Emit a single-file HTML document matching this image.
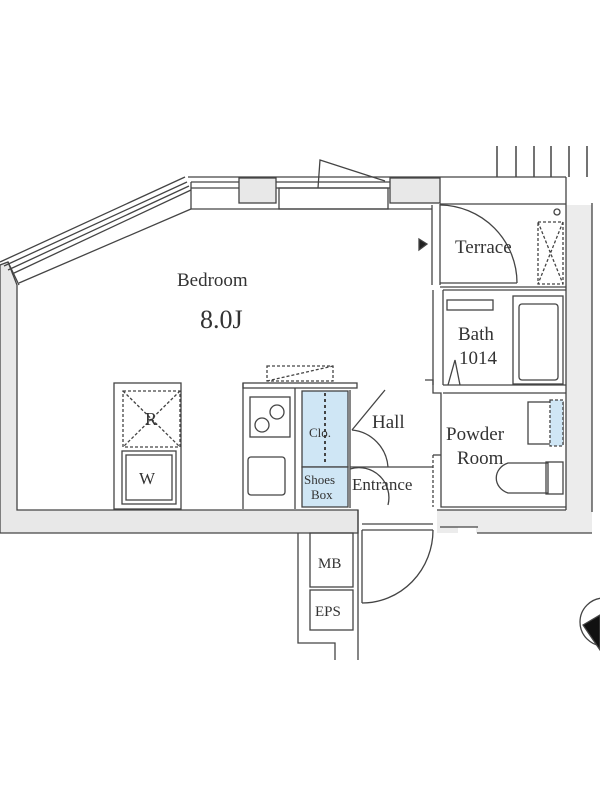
<!DOCTYPE html>
<html><head><meta charset="utf-8"><style>
html,body{margin:0;padding:0;background:#fff;}
svg{display:block;}
text{font-family:"Liberation Serif",serif;fill:#333;}
</style></head><body>
<svg width="600" height="800" viewBox="0 0 600 800" xmlns="http://www.w3.org/2000/svg">
<g stroke="#444" stroke-width="1.3" fill="none">
<!-- gray walls -->
<path d="M0,265 L8,262 L17,285 L17,510 L358,510 L358,533 L0,533 Z" fill="#e8e8e8"/>
<path d="M437,510 L566,510 L566,205 L592,205 L592,533 L476,533 L476,527 L458,527 L458,533 L437,533 Z" fill="#ececec" stroke="none"/>
<line x1="437" y1="510" x2="566" y2="510"/><line x1="440" y1="527" x2="478" y2="527"/><line x1="477" y1="533" x2="592" y2="533"/>
<line x1="566" y1="177" x2="566" y2="510"/><line x1="592" y1="203" x2="592" y2="512"/>
<rect x="239" y="178" width="37" height="25" fill="#e8e8e8"/>
<rect x="390" y="178" width="50" height="25" fill="#e8e8e8"/>
<!-- top walls -->
<line x1="188" y1="177" x2="566" y2="177"/>
<line x1="191" y1="209" x2="432" y2="209"/>
<line x1="191" y1="182" x2="239" y2="182"/><line x1="191" y1="188" x2="239" y2="188"/><line x1="191" y1="182" x2="191" y2="209"/>
<line x1="276" y1="182" x2="390" y2="182"/><line x1="276" y1="188" x2="390" y2="188"/>
<rect x="279" y="188" width="109" height="21"/>
<polyline points="318,188 320,160 385,181"/>
<!-- diagonal window -->
<line x1="0" y1="262" x2="185" y2="177"/>
<line x1="4" y1="266" x2="187" y2="182"/>
<line x1="8" y1="270" x2="189" y2="186"/>
<line x1="12" y1="274" x2="191" y2="190"/>
<line x1="19" y1="283" x2="191" y2="209"/>
<line x1="8" y1="262" x2="19" y2="285"/>
<!-- railing -->
<g stroke-width="1.5"><line x1="497" y1="146" x2="497" y2="177"/><line x1="516" y1="146" x2="516" y2="177"/><line x1="534" y1="146" x2="534" y2="177"/><line x1="551" y1="146" x2="551" y2="177"/><line x1="569" y1="146" x2="569" y2="177"/><line x1="587" y1="146" x2="587" y2="177"/></g>
<!-- terrace -->
<line x1="440" y1="204" x2="566" y2="204"/>
<line x1="440" y1="287" x2="566" y2="287"/>
<line x1="432" y1="205" x2="432" y2="285"/><line x1="440" y1="204" x2="440" y2="285"/>
<path d="M440,205 A78,78 0 0 1 517,283" />
<line x1="440" y1="283" x2="517" y2="283"/>
<circle cx="557" cy="212" r="3"/>
<rect x="538" y="222" width="25" height="62" stroke-dasharray="3,2"/>
<path d="M538,222 L563,284 M563,222 L538,284" stroke-dasharray="3,2"/>
<path d="M419,239 L427,244 L419,250 Z" fill="#222"/>
<!-- bath -->
<line x1="433" y1="290" x2="433" y2="385"/><line x1="443" y1="290" x2="443" y2="385"/>
<line x1="443" y1="290" x2="566" y2="290"/>
<rect x="447" y="300" width="46" height="10"/>
<rect x="513" y="296" width="50" height="88"/>
<rect x="519" y="304" width="39" height="76" rx="3"/>
<polyline points="448,385 455,360 460,385"/>
<line x1="443" y1="385" x2="566" y2="385"/>
<path d="M425,380 L433,380 L433,393 L441,393 L441,507 L566,507" />
<line x1="443" y1="393" x2="566" y2="393"/>
<!-- powder room fixtures -->
<rect x="528" y="402" width="35" height="42"/>
<rect x="550" y="400" width="13" height="46" fill="#cfe6f5" stroke-dasharray="3,2"/>
<path d="M548,463 L508,463 A18,16 0 0 0 508,493 L548,493 Z"/>
<rect x="546" y="462" width="17" height="32"/>
<line x1="433" y1="455" x2="433" y2="507" stroke-dasharray="3,2"/>
<line x1="433" y1="455" x2="441" y2="455"/>
<!-- kitchen -->
<rect x="114" y="383" width="67" height="126"/>
<rect x="123" y="391" width="57" height="56" stroke-dasharray="3,2"/>
<path d="M123,391 L180,447 M180,391 L123,447" stroke-dasharray="3,2"/>
<rect x="122" y="451" width="54" height="53"/><rect x="126" y="455" width="46" height="45"/>
<line x1="243" y1="383" x2="243" y2="509"/><line x1="295" y1="388" x2="295" y2="509"/>
<rect x="243" y="383" width="114" height="5"/>
<rect x="250" y="397" width="40" height="40"/>
<circle cx="262" cy="425" r="7"/><circle cx="277" cy="412" r="7"/>
<rect x="248" y="457" width="37" height="38" rx="3"/>
<rect x="267" y="366" width="66" height="15" stroke-dasharray="3,2"/>
<line x1="267" y1="381" x2="333" y2="366" stroke-dasharray="3,2"/>
<!-- closet -->
<rect x="302" y="391" width="46" height="76" fill="#cfe6f5"/>
<rect x="302" y="467" width="46" height="40" fill="#cfe6f5"/>
<line x1="325" y1="393" x2="325" y2="465" stroke-dasharray="3,3" stroke-width="2"/>
<line x1="350" y1="390" x2="350" y2="508"/>
<!-- hall door -->
<path d="M352,430 L385,390 M352,430 A40,40 0 0 1 388,467"/>
<line x1="350" y1="467" x2="433" y2="467"/>
<path d="M350,469 A30,30 0 0 1 388,505"/>
<!-- entrance -->
<line x1="358" y1="510" x2="358" y2="660"/>
<line x1="362" y1="524" x2="433" y2="524"/><line x1="362" y1="530" x2="433" y2="530"/>
<line x1="362" y1="530" x2="362" y2="603"/>
<path d="M362,603 A71,73 0 0 0 433,530"/>
<!-- MB / EPS -->
<polyline points="298,533 298,643 335,643 335,660"/>
<rect x="310" y="533" width="43" height="54"/>
<rect x="310" y="590" width="43" height="40"/>
<!-- compass -->
<circle cx="604" cy="622" r="24"/>
<path d="M583,625 L600,615 L600,650 Z" fill="#111"/>
</g>
<text x="177" y="286" font-size="19">Bedroom</text>
<text x="200" y="328" font-size="26">8.0J</text>
<text x="455" y="253" font-size="19">Terrace</text>
<text x="458" y="340" font-size="19">Bath</text>
<text x="459" y="364" font-size="19">1014</text>
<text x="372" y="428" font-size="19">Hall</text>
<text x="446" y="440" font-size="19">Powder</text>
<text x="457" y="464" font-size="19">Room</text>
<text x="352" y="490" font-size="17">Entrance</text>
<text x="309" y="437" font-size="13">Clo.</text>
<text x="304" y="484" font-size="13">Shoes</text>
<text x="311" y="499" font-size="13">Box</text>
<text x="145" y="425" font-size="18">R</text>
<text x="139" y="484" font-size="17">W</text>
<text x="318" y="568" font-size="15">MB</text>
<text x="315" y="616" font-size="15">EPS</text>
</svg>
</body></html>
